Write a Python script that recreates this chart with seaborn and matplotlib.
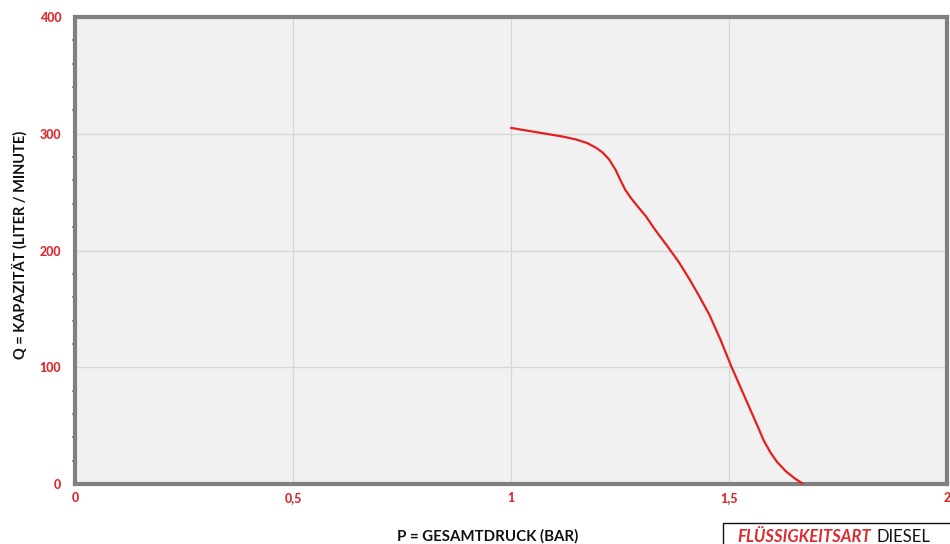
import matplotlib
matplotlib.use("Agg")
import matplotlib.pyplot as plt
import seaborn as sns
import pandas as pd
from matplotlib.ticker import MultipleLocator

# Data
pressure_bar = [1.00, 1.04, 1.08, 1.12, 1.15, 1.175, 1.195, 1.21, 1.225, 1.24, 1.25,
                1.262, 1.275, 1.29, 1.31, 1.33, 1.36, 1.385, 1.41, 1.43, 1.455,
                1.48, 1.505, 1.525, 1.545, 1.565, 1.58, 1.595, 1.61, 1.63, 1.65, 1.67]
capacity_lpm = [305, 302.5, 300, 297.5, 295, 292, 288, 284, 278, 269, 261,
                252, 245, 238, 229, 218, 203, 190, 175, 162, 145,
                124, 101, 84, 67, 50, 37, 27, 19, 11, 5, 0]
x_ticks = [0, 0.5, 1, 1.5, 2]
x_tick_labels = ["0", "0,5", "1", "1,5", "2"]
y_ticks = [0, 100, 200, 300, 400]
y_tick_labels = ["0", "100", "200", "300", "400"]

RED = "#dc2a2e"
SPINE = "#808080"

sns.set_theme(style="white")
plt.rcParams["font.family"] = ["Lato", "DejaVu Sans"]

fig = plt.figure(figsize=(9.5, 5.44), dpi=100)
ax = fig.add_axes([75/950, 60/544, (947-75)/950, (484-17)/544])
ax.set_facecolor("#f1f1f1")

df = pd.DataFrame({"p": pressure_bar, "q": capacity_lpm})
sns.lineplot(data=df, x="p", y="q", ax=ax, color="#e3201f", linewidth=1.6, zorder=3)

ax.set_xlim(0, 2)
ax.set_ylim(0, 400)
ax.set_xticks(x_ticks)
ax.set_xticklabels(x_tick_labels)
ax.set_yticks(y_ticks)
ax.set_yticklabels(y_tick_labels)
ax.yaxis.set_minor_locator(MultipleLocator(20))

ax.grid(True, which="major", color="#d6d6d6", linewidth=0.9, zorder=0)
ax.set_axisbelow(True)

for side in ["left", "bottom", "top", "right"]:
    ax.spines[side].set_visible(True)
    ax.spines[side].set_color(SPINE)
    ax.spines[side].set_linewidth(3.0)

ax.tick_params(axis="both", which="major", colors=SPINE, length=2, width=1.2,
               labelcolor=RED, labelsize=9)
ax.tick_params(axis="y", which="major", pad=8)
ax.tick_params(axis="x", which="major", pad=4)
ax.tick_params(axis="y", which="minor", colors=SPINE, length=2, width=1.2, left=True)
for lbl in ax.get_xticklabels() + ax.get_yticklabels():
    lbl.set_fontweight(900)

ax.set_xlabel("")
ax.set_ylabel("")
fig.text(488/950, 1 - 536/544, "P = GESAMTDRUCK (BAR)", ha="center", va="center",
         fontsize=10.8, fontweight="bold", color="#111111")
fig.text(20/950, 1 - 245/544, "Q = KAPAZITÄT (LITER / MINUTE)", ha="center", va="center",
         rotation=90, fontsize=10.5, fontweight="bold", color="#111111")

# Fluid type box (clipped at bottom-right of the figure)
box = plt.Rectangle((723/950, -0.05), 0.3, (544-523)/544 + 0.05, transform=fig.transFigure,
                    facecolor="white", edgecolor="#111111", linewidth=1.0, clip_on=False)
fig.add_artist(box)
fig.text(737/950, 1.5/544, "FLÜSSIGKEITSART", ha="left", va="baseline",
         fontsize=12, fontweight="bold", fontstyle="italic", color=RED)
fig.text(876/950, 1.5/544, "DIESEL", ha="left", va="baseline",
         fontsize=12, color="#111111")

fig.savefig("out.png", dpi=100)
